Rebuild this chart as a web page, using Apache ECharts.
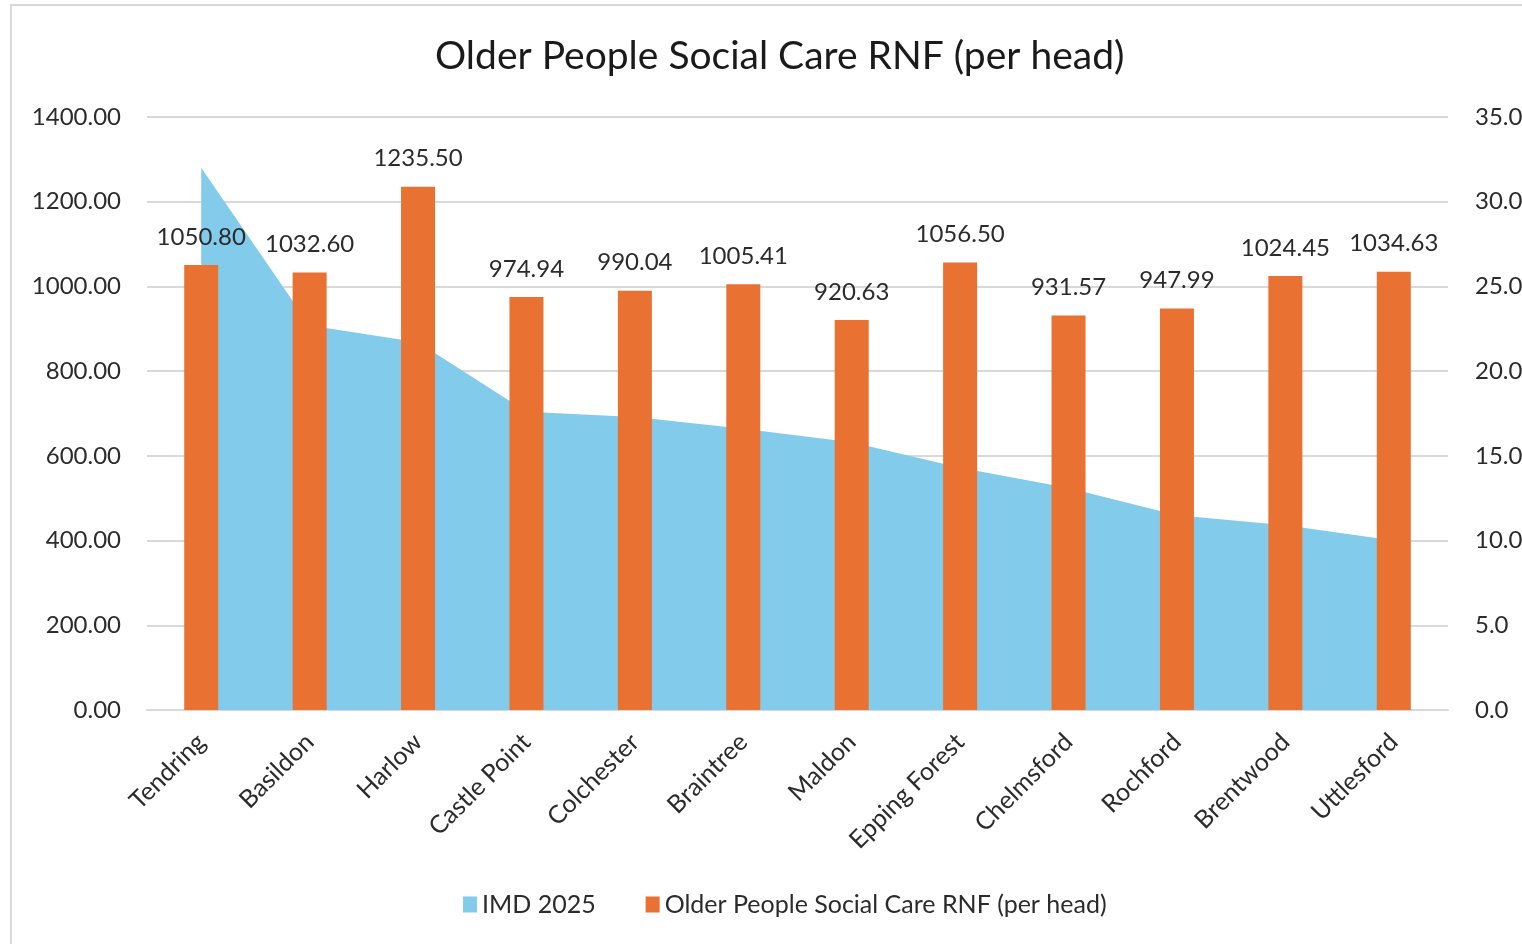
<!DOCTYPE html>
<html>
<head>
<meta charset="utf-8">
<title>Older People Social Care RNF (per head)</title>
<script src="https://cdn.jsdelivr.net/npm/echarts@6/dist/echarts.min.js"></script>
<style>
  html, body { margin: 0; padding: 0; background: #ffffff; }
  #chart { width: 1522px; height: 944px; }
</style>
</head>
<body>
<div id="chart"></div>
<script>
// Districts, ordered by IMD 2025 score
const districts = ['Tendring', 'Basildon', 'Harlow', 'Castle Point', 'Colchester', 'Braintree',
  'Maldon', 'Epping Forest', 'Chelmsford', 'Rochford', 'Brentwood', 'Uttlesford'];

// IMD 2025 average score (right axis)
const imd2025 = [32.0, 22.7, 21.7, 17.6, 17.3, 16.6, 15.8, 14.3, 13.1, 11.5, 10.9, 10.0];

// Older People Social Care RNF, £ per head (left axis)
const rnfPerHead = [1050.80, 1032.60, 1235.50, 974.94, 990.04, 1005.41,
  920.63, 1056.50, 931.57, 947.99, 1024.45, 1034.63];

const FONT = 'Lato, "Open Sans", sans-serif';
const TEXT = '#2b2b2b';

const chart = echarts.init(document.getElementById('chart'), null, { renderer: 'canvas' });

chart.setOption({
  backgroundColor: '#ffffff',
  animation: false,
  textStyle: { fontFamily: FONT, color: TEXT },
  title: {
    text: 'Older People Social Care RNF (per head)',
    left: 430,
    top: 32,
    textStyle: { fontFamily: FONT, fontSize: 39, fontWeight: 'normal', color: '#1a1a1a' }
  },
  legend: {
    bottom: 22,
    left: 458,
    itemWidth: 14,
    itemHeight: 16,
    itemGap: 50,
    icon: 'rect',
    textStyle: { fontFamily: FONT, fontSize: 25, color: TEXT },
    data: ['IMD 2025', 'Older People Social Care RNF (per head)']
  },
  grid: {
    left: 147,
    right: 74,
    top: 117,
    bottom: 234,
    containLabel: false,
    outerBoundsMode: 'none'
  },
  xAxis: {
    type: 'category',
    data: districts,
    boundaryGap: true,
    axisLine: { show: true, lineStyle: { color: '#d9d9d9', width: 2 } },
    axisTick: { show: false },
    axisLabel: {
      rotate: 45,
      interval: 0,
      margin: 28,
      fontFamily: FONT,
      fontSize: 25,
      color: TEXT
    }
  },
  yAxis: [
    {
      type: 'value',
      min: 0,
      max: 1400,
      interval: 200,
      axisLine: { show: false },
      axisTick: { show: false },
      splitLine: { lineStyle: { color: '#d9d9d9', width: 2 } },
      axisLabel: {
        margin: 26,
        fontFamily: FONT,
        fontSize: 24,
        color: TEXT,
        formatter: v => v.toFixed(2)
      }
    },
    {
      type: 'value',
      min: 0,
      max: 35,
      interval: 5,
      axisLine: { show: false },
      axisTick: { show: false },
      splitLine: { show: false },
      axisLabel: {
        margin: 27,
        fontFamily: FONT,
        fontSize: 24,
        color: TEXT,
        formatter: v => v.toFixed(1)
      }
    }
  ],
  series: [
    {
      name: 'IMD 2025',
      type: 'line',
      yAxisIndex: 1,
      data: imd2025,
      symbol: 'none',
      lineStyle: { width: 0, color: '#83cbeb' },
      itemStyle: { color: '#83cbeb' },
      areaStyle: { color: '#83cbeb', opacity: 1 },
      z: 1
    },
    {
      name: 'Older People Social Care RNF (per head)',
      type: 'bar',
      yAxisIndex: 0,
      data: rnfPerHead,
      barWidth: 34,
      itemStyle: { color: '#e97132' },
      label: {
        show: true,
        position: 'top',
        distance: 16,
        fontFamily: FONT,
        fontSize: 24,
        color: TEXT,
        formatter: p => p.value.toFixed(2)
      },
      z: 3
    }
  ],
  graphic: [
    {
      type: 'rect',
      shape: { x: 11, y: 5, width: 1530, height: 960 },
      style: { fill: 'none', stroke: '#d9d9d9', lineWidth: 2 },
      silent: true,
      z: -1
    }
  ]
});
</script>
</body>
</html>
